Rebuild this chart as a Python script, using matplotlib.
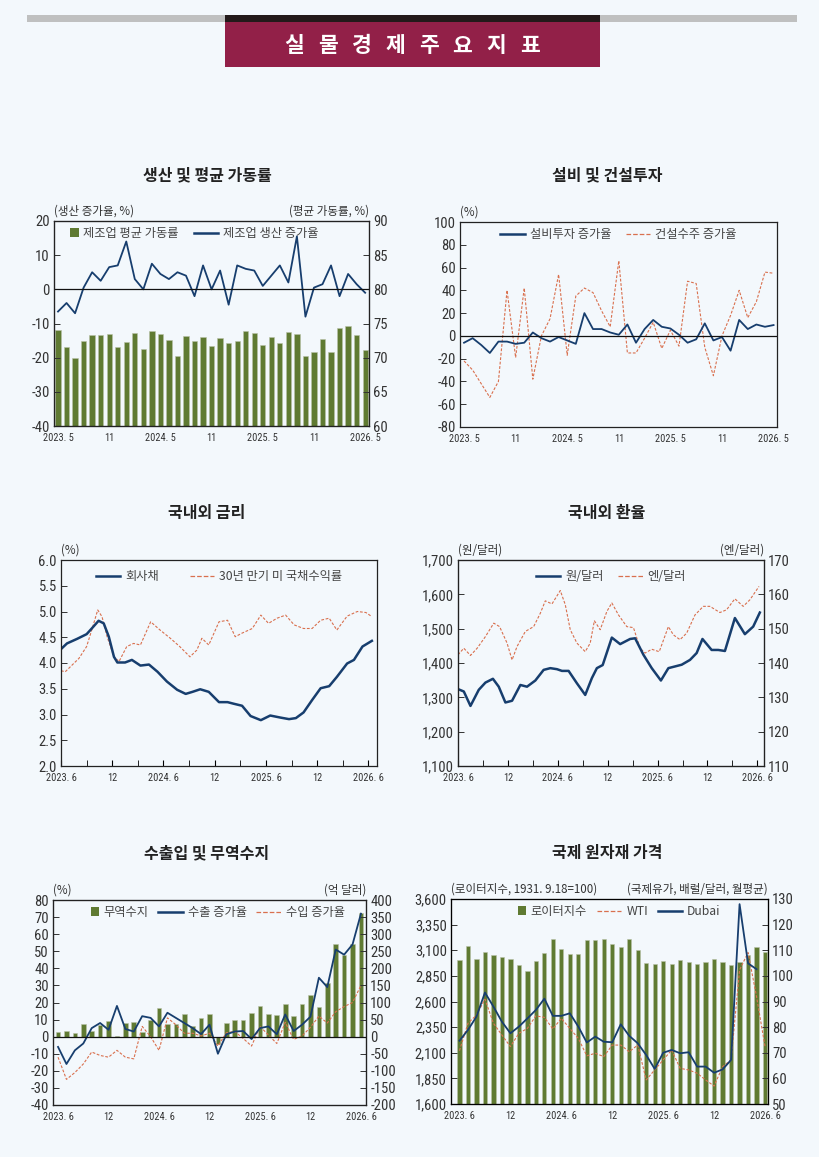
import numpy as np
import matplotlib
matplotlib.use('Agg')
import matplotlib.pyplot as plt
from matplotlib.patches import Rectangle
from matplotlib.lines import Line2D
from matplotlib.legend_handler import HandlerBase
from matplotlib import font_manager

# ---------------- 데이터 ----------------
# 생산 및 평균 가동률 (2023.5 ~ 2026.5, 월별)
util_rate = [74.0, 71.6, 70.0, 72.5, 73.3, 73.3, 73.5, 71.6, 72.3, 73.6, 71.3, 73.9, 73.4,
             72.6, 70.3, 73.2, 72.5, 73.0, 71.7, 72.9, 72.1, 72.4, 73.9, 73.6, 71.9, 73.0,
             72.1, 73.7, 73.4, 70.3, 70.9, 72.8, 70.8, 74.4, 74.6, 73.3, 71.1]
prod_growth = [-6.5, -4, -7, 0.5, 5, 2.5, 6.5, 7, 14, 3, 0, 7.5, 4.5, 3, 5, 4, -2, 7, 0,
               5.5, -4.5, 7, 6, 5.5, 1, 4, 7, 2, 15.5, -8, 0.5, 1.5, 7, -2, 4.5, 1.5, -1]

# 설비 및 건설투자 (2023.5 ~ 2026.5)
equip_growth = [-6, -2, -8, -15, -5, -5, -7, -6, 3, -2, -5, -1, -4, -7, 20, 6, 6, 3, 1,
                10, -6, 6, 14, 8, 6.5, 1, -6, -3, 11, -4, -1, -13, 14, 6, 10, 8, 9.5]
constr_growth = [-22, -30, -42, -54, -40, 40, -19, 42, -38, 0, 15, 54, -17, 35, 42, 38, 22,
                 8, 66, -15, -15, -2, 12, -11, 5, -9, 48, 46, -10, -35, 0, 18, 40, 16, 30, 56, 55]

# 국내외 금리 (2023.6 이후 경과 개월)
corp_t = [0, 0.7, 1.9, 3.0, 3.6, 4.4, 5.0, 5.6, 6.2, 6.6, 7.5, 8.3, 9.3, 10.3, 11.3, 12.4,
          13.6, 14.6, 15.4, 16.3, 17.3, 18.5, 19.5, 20.2, 21.2, 22.2, 23.4, 24.5, 25.7,
          26.7, 27.5, 28.4, 29.4, 30.4, 31.4, 32.3, 33.5, 34.3, 35.3, 36.4]
corp_bond = [4.27, 4.38, 4.47, 4.56, 4.67, 4.82, 4.77, 4.51, 4.12, 4.01, 4.01, 4.06, 3.95,
             3.97, 3.83, 3.64, 3.48, 3.40, 3.44, 3.49, 3.44, 3.24, 3.24, 3.21, 3.17, 2.97,
             2.89, 2.98, 2.94, 2.91, 2.93, 3.04, 3.28, 3.51, 3.55, 3.73, 3.99, 4.06, 4.32, 4.43]
ust_t = [0, 0.5, 1.3, 2.1, 3.0, 3.6, 4.3, 4.8, 5.4, 6.2, 6.8, 7.7, 8.5, 9.3, 10.5, 11.6,
         12.8, 13.9, 15.1, 15.9, 16.5, 17.3, 18.5, 19.5, 20.4, 21.2, 22.4, 23.4, 24.3, 25.3,
         26.3, 27.3, 28.4, 29.4, 30.4, 31.4, 32.3, 33.5, 34.7, 35.7, 36.4]
ust30 = [3.85, 3.83, 3.96, 4.09, 4.32, 4.64, 5.03, 4.90, 4.51, 4.12, 4.03, 4.32, 4.38, 4.35,
         4.80, 4.64, 4.48, 4.32, 4.12, 4.25, 4.48, 4.35, 4.80, 4.83, 4.51, 4.58, 4.67, 4.93,
         4.77, 4.87, 4.93, 4.74, 4.67, 4.67, 4.83, 4.87, 4.64, 4.91, 5.00, 4.98, 4.90]

# 국내외 환율
krw_t = [0, 0.7, 1.5, 2.5, 3.3, 4.2, 4.9, 5.7, 6.5, 7.5, 8.3, 9.3, 10.3, 11.1, 11.9, 12.5,
         13.3, 14.3, 15.3, 16.1, 16.7, 17.4, 18.5, 19.5, 20.7, 21.3, 22.3, 23.3, 24.4, 25.3,
         26.1, 26.9, 27.9, 28.7, 29.4, 30.5, 31.3, 32.1, 33.3, 34.5, 35.5, 36.3]
krw = [1324, 1317, 1275, 1322, 1343, 1354, 1331, 1285, 1290, 1336, 1331, 1349, 1380, 1385,
       1382, 1377, 1377, 1341, 1307, 1356, 1385, 1394, 1474, 1455, 1470, 1472, 1424, 1385,
       1349, 1385, 1390, 1395, 1409, 1429, 1470, 1438, 1438, 1435, 1531, 1484, 1506, 1547]
jpy_t = [0, 0.7, 1.5, 2.3, 3.3, 4.3, 5.0, 5.9, 6.5, 7.1, 8.1, 9.1, 9.9, 10.5, 11.3, 12.3,
         12.9, 13.5, 14.3, 15.3, 15.9, 16.4, 17.1, 17.9, 18.5, 19.3, 20.3, 21.1, 21.9, 22.5,
         23.3, 24.2, 25.3, 25.9, 26.7, 27.5, 28.5, 29.5, 30.3, 31.5, 32.3, 33.3, 34.3, 35.1, 36.2]
jpy = [142.4, 144.3, 142.2, 144.3, 147.7, 151.6, 150.6, 145.8, 140.9, 144.8, 149.2, 150.6,
       154.5, 158.1, 157.2, 161.1, 157.0, 149.7, 145.8, 143.3, 145.8, 152.3, 149.7, 155.0,
       157.5, 154.0, 150.6, 150.3, 144.3, 142.9, 144.0, 143.3, 150.6, 148.2, 146.8, 148.7,
       154.0, 156.5, 156.5, 154.7, 155.5, 158.7, 156.5, 158.4, 162.3]

# 수출입 및 무역수지 (2023.6 ~ 2026.6)
trade_bal = [14, 18, 11, 37, 16, 34, 45, 2, 39, 44, 15, 49, 83, 36, 36, 65, 32, 56, 65, -20,
             39, 48, 49, 69, 90, 66, 63, 96, 60, 96, 122, 88, 157, 270, 239, 270, 363]
export_growth = [-6, -16, -8, -4, 5, 8, 4, 18, 4.5, 3, 12, 11, 6, 14, 11, 8, 5, 1.5, 7, -10,
                 1.4, 3, 3.3, -1.4, 5, 6, 1.4, 13, 3.3, 7, 11.7, 34.5, 29, 51, 48, 54, 72]
import_growth = [-12, -25, -21, -16, -9, -11, -12, -8, -12, -13, 6, 0, -8, 11, 7, 2, 2, 0.4,
                 2, -5.5, 2.3, 3, -1, -5.5, 6, 1, -4, 8.4, -1.6, 0.4, 5.5, 12, 8, 14.6, 17.6,
                 20, 30]

# 국제 원자재 가격 (2023.6 ~ 2026.6)
reuters = [3005, 3141, 3011, 3083, 3057, 3037, 3015, 2959, 2901, 2998, 3073, 3207, 3112,
           3060, 3067, 3197, 3197, 3207, 3158, 3132, 3210, 3102, 2976, 2966, 2995, 2963,
           3005, 2989, 2966, 2989, 3018, 2985, 2959, 2989, 3050, 3128, 3086]
wti = [70.8, 81.5, 84.7, 90.9, 81.5, 76.9, 72.4, 77.6, 79.5, 84.4, 83.8, 79.3, 83.4, 79.5,
       75.6, 68.8, 69.8, 68.5, 73.0, 73.0, 70.4, 73.0, 59.4, 63.3, 67.2, 71.1, 63.9, 63.3,
       62.0, 59.4, 57.0, 64.6, 67.2, 102.3, 109.1, 91.9, 72.4]
dubai = [74.7, 78.9, 84.1, 93.5, 88.0, 82.1, 77.6, 80.2, 83.4, 86.7, 91.1, 84.4, 84.4, 85.4,
         80.2, 74.0, 76.3, 74.3, 74.1, 81.1, 76.6, 73.7, 69.1, 63.7, 70.0, 71.1, 69.8, 70.2,
         64.6, 64.6, 62.2, 63.5, 67.2, 128.0, 104.9, 102.6]

labels_may = ['2023. 5', '11', '2024. 5', '11', '2025. 5', '11', '2026. 5']
labels_jun = ['2023. 6', '12', '2024. 6', '12', '2025. 6', '12', '2026. 6']
header = '실물경제주요지표'

# ---------------- 스타일 ----------------
BG = '#F3F8FC'
NAVY = '#173E6E'
ORANGE = '#D9704E'
OLIVE = '#5F7A32'
TXT = '#333333'

plt.rcParams['font.family'] = ['Noto Sans CJK KR', 'DejaVu Sans']
plt.rcParams['axes.unicode_minus'] = False
NUM = ['Liberation Sans', 'Noto Sans CJK KR']
for cand in ['Liberation Sans Narrow', 'Roboto Condensed', 'DejaVu Sans Condensed']:
    try:
        font_manager.findfont(cand, fallback_to_default=False)
        NUM = [cand, 'Noto Sans CJK KR']
        break
    except Exception:
        pass

W, H = 820, 1157
fig = plt.figure(figsize=(W / 100, H / 100), dpi=100, facecolor=BG)


class SquareHandler(HandlerBase):
    # 범례의 막대 표시: 글자 바로 앞의 작은 사각형
    def create_artists(self, legend, orig, xdescent, ydescent, width, height, fontsize,
                       trans):
        s = height * 0.95
        r = Rectangle((-xdescent + width - s, -ydescent + (height - s) / 2), s, s,
                      facecolor=OLIVE, edgecolor='none', transform=trans)
        return [r]


def px_axes(l, t, r, b):
    ax = fig.add_axes([l / W, 1 - b / H, (r - l) / W, (b - t) / H])
    ax.set_facecolor('none')
    for s in ax.spines.values():
        s.set_linewidth(0.9)
        s.set_color('#222222')
    return ax


def style_ticks(ax, size=10.5):
    ax.tick_params(axis='y', direction='in', length=4, width=0.7, labelsize=size,
                   colors=TXT, pad=3)
    for lab in ax.get_yticklabels():
        lab.set_family(NUM)


def set_xlabels(ax, labels, tick_len=0):
    ax.set_xticks(range(0, 37, 6))
    ax.set_xticklabels(labels, family=NUM, fontsize=7.5, color=TXT)
    ax.tick_params(axis='x', length=tick_len, direction='in', pad=5)


def fmt_comma(ax, vals):
    ax.set_yticks(vals)
    ax.set_yticklabels([f'{v:,}' for v in vals])


def unit_label(ax, left, right=None):
    ax.text(0.0, 1.015, left, transform=ax.transAxes, fontsize=8.3, va='bottom', color=TXT)
    if right:
        ax.text(1.0, 1.015, right, transform=ax.transAxes, fontsize=8.3, va='bottom',
                ha='right', color=TXT)


bar_patch = Rectangle((0, 0), 1, 1, color=OLIVE)
hmap = {Rectangle: SquareHandler()}

# ---------------- 헤더 ----------------
fig.patches.append(Rectangle((27 / W, 1 - 22 / H), 770 / W, 7 / H, transform=fig.transFigure,
                             facecolor='#BFC0C0', edgecolor='none'))
fig.patches.append(Rectangle((225 / W, 1 - 22 / H), 375 / W, 7 / H, transform=fig.transFigure,
                             facecolor='#231A1A', edgecolor='none'))
fig.patches.append(Rectangle((225 / W, 1 - 67 / H), 375 / W, 45 / H, transform=fig.transFigure,
                             facecolor='#922048', edgecolor='none'))
for i, ch in enumerate(header):
    fig.text((294 + i * 33.7) / W, 1 - 46 / H, ch, color='white', fontsize=15.5,
             fontweight='bold', ha='center', va='center')

# 패널 제목
titles = [('생산 및 평균 가동률', 207, 175), ('설비 및 건설투자', 607, 175),
          ('국내외 금리', 207, 513), ('국내외 환율', 607, 513),
          ('수출입 및 무역수지', 207, 853), ('국제 원자재 가격', 607, 853)]
for t, x, y in titles:
    fig.text(x / W, 1 - y / H, t, fontsize=11.5, fontweight='bold', ha='center',
             va='center', color='#222222')

leg_kw = dict(frameon=False, ncol=3, fontsize=8.8, handlelength=2.0, handletextpad=0.4,
              columnspacing=1.2, loc='center', labelcolor='#444444', handler_map=hmap)

# ---------------- 1. 생산 및 평균 가동률 ----------------
ax = px_axes(54, 221, 369, 426)
ax2 = ax.twinx()
x = np.arange(len(util_rate))
ax2.bar(x, util_rate, width=0.62, color=OLIVE, edgecolor='#B9C2A8', linewidth=0.4)
ax.plot(x, prod_growth, color=NAVY, lw=1.3)
ax.axhline(0, color='#111111', lw=0.9)
ax.set_zorder(ax2.get_zorder() + 1)
ax.patch.set_visible(False)
ax.set_ylim(-40, 20)
ax.set_yticks(range(-40, 21, 10))
ax2.set_ylim(60, 90)
ax2.set_yticks(range(60, 91, 5))
ax.set_xlim(-0.47, 36.45)
set_xlabels(ax, labels_may)
style_ticks(ax)
style_ticks(ax2)
unit_label(ax, '(생산 증가율, %)', '(평균 가동률, %)')
h = [bar_patch, Line2D([], [], color=NAVY, lw=1.8)]
ax.legend(h, ['제조업 평균 가동률', '제조업 생산 증가율'], bbox_to_anchor=(0.42, 0.94),
          **leg_kw)

# ---------------- 2. 설비 및 건설투자 ----------------
ax = px_axes(460, 222, 777, 427)
x = np.arange(len(equip_growth))
ax.plot(x, constr_growth, color=ORANGE, lw=0.8, ls=(0, (2.5, 1.5)))
ax.plot(x, equip_growth, color=NAVY, lw=1.3)
ax.axhline(0, color='#111111', lw=0.9)
ax.set_ylim(-80, 100)
ax.set_yticks(range(-80, 101, 20))
ax.set_xlim(-0.47, 36.4)
set_xlabels(ax, labels_may)
style_ticks(ax)
unit_label(ax, '(%)')
h = [Line2D([], [], color=NAVY, lw=1.8), Line2D([], [], color=ORANGE, lw=0.9, ls='--')]
ax.legend(h, ['설비투자 증가율', '건설수주 증가율'], bbox_to_anchor=(0.50, 0.94), **leg_kw)

# ---------------- 3. 국내외 금리 ----------------
ax = px_axes(61, 560, 377, 766)
ax.plot(ust_t, ust30, color=ORANGE, lw=0.8, ls=(0, (2.5, 1.5)))
ax.plot(corp_t, corp_bond, color=NAVY, lw=1.8)
ax.set_ylim(2.0, 6.0)
ax.set_yticks(np.arange(2.0, 6.01, 0.5))
ax.set_yticklabels([f'{v:.1f}' for v in np.arange(2.0, 6.01, 0.5)])
ax.set_xlim(0, 37)
set_xlabels(ax, labels_jun, tick_len=4)
ax.set_xticks(range(3, 37, 3), minor=True)
ax.tick_params(axis='x', which='minor', length=4, direction='in')
style_ticks(ax)
unit_label(ax, '(%)')
h = [Line2D([], [], color=NAVY, lw=1.8), Line2D([], [], color=ORANGE, lw=0.9, ls='--')]
ax.legend(h, ['회사채', '30년 만기 미 국채수익률'], bbox_to_anchor=(0.50, 0.92),
          **dict(leg_kw, columnspacing=2.5))

# ---------------- 4. 국내외 환율 ----------------
ax = px_axes(458, 560, 764, 766)
ax2 = ax.twinx()
ax2.plot(jpy_t, jpy, color=ORANGE, lw=0.8, ls=(0, (2.5, 1.5)))
ax.plot(krw_t, krw, color=NAVY, lw=1.8)
ax.set_zorder(ax2.get_zorder() + 1)
ax.patch.set_visible(False)
ax.set_ylim(1100, 1700)
fmt_comma(ax, list(range(1100, 1701, 100)))
ax2.set_ylim(110, 170)
ax2.set_yticks(range(110, 171, 10))
ax.set_xlim(0, 36.8)
set_xlabels(ax, labels_jun, tick_len=4)
ax.set_xticks(range(3, 37, 3), minor=True)
ax.tick_params(axis='x', which='minor', length=4, direction='in')
style_ticks(ax)
style_ticks(ax2)
unit_label(ax, '(원/달러)', '(엔/달러)')
h = [Line2D([], [], color=NAVY, lw=1.8), Line2D([], [], color=ORANGE, lw=0.9, ls='--')]
ax.legend(h, ['원/달러', '엔/달러'], bbox_to_anchor=(0.50, 0.92), **leg_kw)

# ---------------- 5. 수출입 및 무역수지 ----------------
ax = px_axes(53, 900, 366, 1105)
ax2 = ax.twinx()
x = np.arange(len(trade_bal))
ax2.bar(x, trade_bal, width=0.55, color=OLIVE, edgecolor='#B9C2A8', linewidth=0.4)
ax.plot(x, import_growth, color=ORANGE, lw=0.8, ls=(0, (2.5, 1.5)))
ax.plot(x, export_growth, color=NAVY, lw=1.3)
ax.axhline(0, color='#111111', lw=0.9)
ax.set_zorder(ax2.get_zorder() + 1)
ax.patch.set_visible(False)
ax.set_ylim(-40, 80)
ax.set_yticks(range(-40, 81, 10))
ax2.set_ylim(-200, 400)
ax2.set_yticks(range(-200, 401, 50))
ax.set_xlim(-0.6, 36.6)
set_xlabels(ax, labels_jun)
style_ticks(ax)
style_ticks(ax2)
unit_label(ax, '(%)', '(억 달러)')
h = [bar_patch, Line2D([], [], color=NAVY, lw=1.8),
     Line2D([], [], color=ORANGE, lw=0.9, ls='--')]
ax.legend(h, ['무역수지', '수출 증가율', '수입 증가율'], bbox_to_anchor=(0.50, 0.94),
          **dict(leg_kw, columnspacing=0.8))

# ---------------- 6. 국제 원자재 가격 ----------------
ax = px_axes(451, 899, 768, 1104)
ax2 = ax.twinx()
x = np.arange(len(reuters))
ax.bar(x, reuters, width=0.5, color=OLIVE, edgecolor='#B9C2A8', linewidth=0.4)
ax2.plot(np.arange(len(wti)), wti, color=ORANGE, lw=0.8, ls=(0, (2.5, 1.5)))
ax2.plot(np.arange(len(dubai)), dubai, color=NAVY, lw=1.3)
ax.set_ylim(1600, 3600)
fmt_comma(ax, list(range(1600, 3601, 250)))
ax2.set_ylim(50, 130)
ax2.set_yticks(range(50, 131, 10))
ax.set_xlim(-1.0, 36.35)
set_xlabels(ax, labels_jun)
style_ticks(ax)
style_ticks(ax2)
unit_label(ax, '(로이터지수, 1931. 9.18=100)', '(국제유가, 배럴/달러, 월평균)')
h = [bar_patch, Line2D([], [], color=ORANGE, lw=0.9, ls='--'),
     Line2D([], [], color=NAVY, lw=1.8)]
ax2.legend(h, ['로이터지수', 'WTI', 'Dubai'], bbox_to_anchor=(0.505, 0.94),
           **dict(leg_kw, columnspacing=0.8))

fig.savefig('out.png', dpi=100, facecolor=BG)
